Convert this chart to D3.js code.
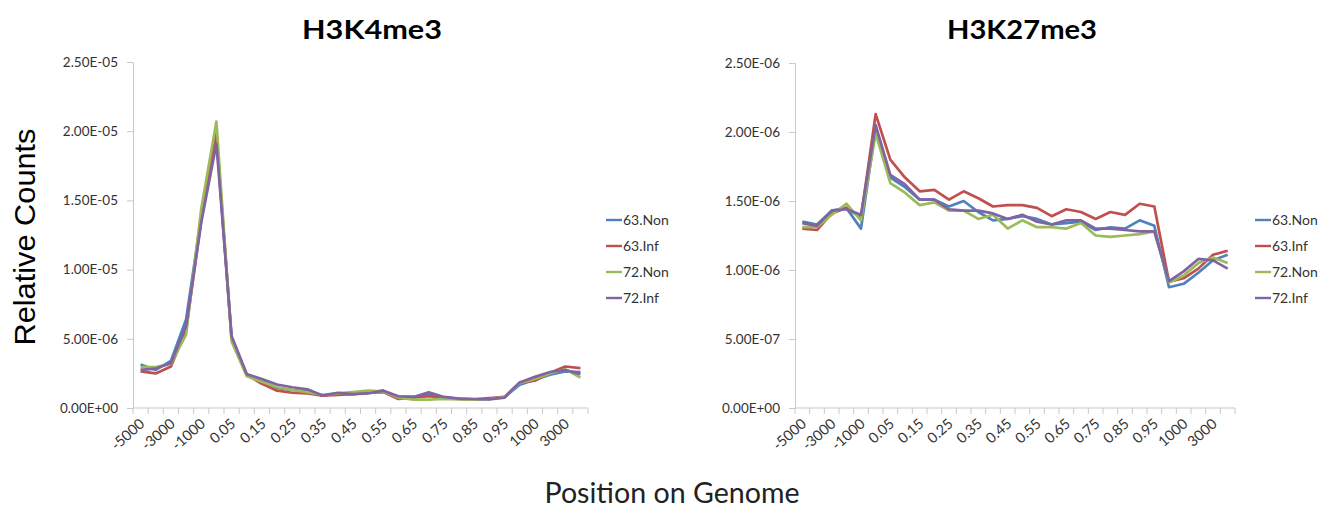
<!DOCTYPE html>
<html><head><meta charset="utf-8">
<script src="https://cdn.jsdelivr.net/npm/d3@7"></script>
<style>body{margin:0;background:#fff}svg{display:block}</style>
</head><body>
<svg id="c" width="1335" height="509"></svg>
<script>
const categories = ["-5000","-4000","-3000","-2000","-1000","0","0.05","0.1","0.15","0.2","0.25","0.3","0.35","0.4","0.45","0.5","0.55","0.6","0.65","0.7","0.75","0.8","0.85","0.9","0.95","1","1000","2000","3000","4000"];
const tickLabels = ["-5000","-3000","-1000","0.05","0.15","0.25","0.35","0.45","0.55","0.65","0.75","0.85","0.95","1000","3000"];
const seriesNames = ["63.Non","63.Inf","72.Non","72.Inf"];
const seriesColors = ["#4F81BD","#C0504D","#9BBB59","#8064A2"];
const yTicksK4 = [0,5e-6,1e-5,1.5e-5,2e-5,2.5e-5];
const yTicksK27 = [0,5e-7,1e-6,1.5e-6,2e-6,2.5e-6];

// H3K4me3
const k4_63Non = [3.15e-6,2.75e-6,3.40e-6,6.40e-6,13.8e-6,19.6e-6,5.10e-6,2.35e-6,1.95e-6,1.45e-6,1.30e-6,1.20e-6,0.90e-6,1.05e-6,1.00e-6,1.10e-6,1.25e-6,0.80e-6,0.80e-6,1.00e-6,0.75e-6,0.68e-6,0.63e-6,0.65e-6,0.80e-6,1.68e-6,2.05e-6,2.40e-6,2.65e-6,2.60e-6];
const k4_63Inf = [2.65e-6,2.50e-6,3.00e-6,5.60e-6,13.6e-6,19.8e-6,5.00e-6,2.40e-6,1.75e-6,1.25e-6,1.10e-6,1.05e-6,0.90e-6,0.95e-6,1.00e-6,1.10e-6,1.15e-6,0.65e-6,0.75e-6,0.85e-6,0.75e-6,0.65e-6,0.63e-6,0.72e-6,0.80e-6,1.85e-6,1.97e-6,2.55e-6,3.00e-6,2.88e-6];
const k4_72Non = [2.95e-6,2.95e-6,3.20e-6,5.30e-6,14.4e-6,20.7e-6,4.80e-6,2.30e-6,1.90e-6,1.50e-6,1.30e-6,1.15e-6,0.95e-6,1.05e-6,1.15e-6,1.25e-6,1.20e-6,0.75e-6,0.60e-6,0.60e-6,0.65e-6,0.62e-6,0.60e-6,0.65e-6,0.78e-6,1.80e-6,2.10e-6,2.50e-6,2.80e-6,2.20e-6];
const k4_72Inf = [2.75e-6,2.85e-6,3.25e-6,5.90e-6,13.4e-6,19.1e-6,5.20e-6,2.45e-6,2.10e-6,1.70e-6,1.50e-6,1.35e-6,0.90e-6,1.10e-6,1.00e-6,1.05e-6,1.25e-6,0.85e-6,0.80e-6,1.13e-6,0.80e-6,0.68e-6,0.65e-6,0.62e-6,0.75e-6,1.85e-6,2.25e-6,2.60e-6,2.75e-6,2.45e-6];

// H3K27me3
const k27_63Non = [1.35e-6,1.33e-6,1.43e-6,1.45e-6,1.30e-6,2.03e-6,1.67e-6,1.60e-6,1.51e-6,1.51e-6,1.46e-6,1.50e-6,1.42e-6,1.36e-6,1.37e-6,1.39e-6,1.37e-6,1.33e-6,1.34e-6,1.35e-6,1.29e-6,1.31e-6,1.30e-6,1.36e-6,1.32e-6,0.875e-6,0.90e-6,0.98e-6,1.07e-6,1.11e-6];
const k27_63Inf = [1.30e-6,1.29e-6,1.41e-6,1.45e-6,1.38e-6,2.13e-6,1.80e-6,1.67e-6,1.57e-6,1.58e-6,1.51e-6,1.57e-6,1.52e-6,1.46e-6,1.47e-6,1.47e-6,1.45e-6,1.39e-6,1.44e-6,1.42e-6,1.37e-6,1.42e-6,1.40e-6,1.48e-6,1.46e-6,0.915e-6,0.94e-6,1.01e-6,1.11e-6,1.14e-6];
const k27_72Non = [1.31e-6,1.31e-6,1.40e-6,1.48e-6,1.36e-6,1.99e-6,1.63e-6,1.56e-6,1.47e-6,1.49e-6,1.43e-6,1.43e-6,1.37e-6,1.40e-6,1.30e-6,1.36e-6,1.31e-6,1.31e-6,1.30e-6,1.34e-6,1.25e-6,1.24e-6,1.25e-6,1.26e-6,1.28e-6,0.91e-6,0.96e-6,1.05e-6,1.09e-6,1.05e-6];
const k27_72Inf = [1.34e-6,1.32e-6,1.43e-6,1.44e-6,1.40e-6,2.05e-6,1.69e-6,1.62e-6,1.51e-6,1.51e-6,1.44e-6,1.43e-6,1.43e-6,1.41e-6,1.37e-6,1.40e-6,1.35e-6,1.33e-6,1.36e-6,1.36e-6,1.30e-6,1.30e-6,1.29e-6,1.28e-6,1.28e-6,0.92e-6,0.99e-6,1.08e-6,1.07e-6,1.01e-6];

const svg = d3.select("#c");
const CAL = "Lato, 'Open Sans', sans-serif";
const AX = "#c9c9c9";

function fmtE(v){
  const s = d3.format(".2e")(v);
  const [m, e] = s.split("e");
  const sign = e[0] === "-" ? "-" : "+";
  const digits = e.replace(/[+-]/,"").padStart(2,"0");
  return m + "E" + sign + digits;
}

function panel(cfg){
  const g = svg.append("g");
  const x = d3.scaleBand().domain(categories).range([cfg.x0, cfg.x1]).paddingInner(0).paddingOuter(0);
  const y = d3.scaleLinear().domain([0, cfg.yTicks[cfg.yTicks.length-1]]).range([cfg.y1, cfg.y0]);

  const ya = g.append("g").attr("transform", `translate(${cfg.x0},0)`)
    .call(d3.axisLeft(y).tickValues(cfg.yTicks).tickFormat(fmtE).tickSize(6).tickPadding(9));
  ya.select(".domain").attr("stroke", AX);
  ya.selectAll(".tick line").attr("stroke", AX);
  ya.selectAll(".tick text").attr("font-family", CAL).attr("font-size", 13.5).attr("fill", "#333");

  g.append("line").attr("x1", cfg.x0).attr("x2", cfg.x1).attr("y1", cfg.y1).attr("y2", cfg.y1).attr("stroke", AX);
  const bounds = categories.map(c => x(c)).concat([x(categories[categories.length-1]) + x.bandwidth()]);
  g.selectAll(".xt").data(bounds).join("line")
    .attr("x1", d => d).attr("x2", d => d).attr("y1", cfg.y1).attr("y2", cfg.y1 + 6).attr("stroke", AX);
  g.selectAll(".xl").data(tickLabels).join("text")
    .attr("transform", d => `translate(${x(d) + x.bandwidth()/2 + 5},${cfg.y1 + 17}) rotate(-42)`)
    .attr("text-anchor", "end").attr("font-family", CAL).attr("font-size", 14.5).attr("fill", "#333")
    .text(d => d);

  const line = d3.line().x((d,i) => x(categories[i]) + x.bandwidth()/2).y(d => y(d));
  cfg.series.forEach((s, k) => {
    g.append("path").attr("d", line(s)).attr("fill", "none").attr("stroke", seriesColors[k])
      .attr("stroke-width", 2.7).attr("stroke-linejoin", "round");
  });

  g.append("text").attr("x", cfg.titleX).attr("y", 39).attr("text-anchor", "middle")
    .attr("font-family", CAL).attr("font-weight", "bold").attr("font-size", 27).attr("fill", "#000")
    .attr("textLength", cfg.titleW).attr("lengthAdjust", "spacingAndGlyphs").text(cfg.title);

  const lg = g.append("g");
  seriesNames.forEach((n, k) => {
    const yy = 220 + k * 26;
    lg.append("line").attr("x1", cfg.legX).attr("x2", cfg.legX + 16).attr("y1", yy).attr("y2", yy)
      .attr("stroke", seriesColors[k]).attr("stroke-width", 2.4);
    lg.append("text").attr("x", cfg.legX + 17).attr("y", yy).attr("dy", "0.35em")
      .attr("font-family", CAL).attr("font-size", 14).attr("fill", "#333").text(n);
  });
}

panel({x0:133, x1:588, y0:62, y1:408, yTicks:yTicksK4, title:"H3K4me3", titleX:372, titleW:140,
  series:[k4_63Non,k4_63Inf,k4_72Non,k4_72Inf], legX:606});
panel({x0:795, x1:1235, y0:63, y1:408, yTicks:yTicksK27, title:"H3K27me3", titleX:1022, titleW:150,
  series:[k27_63Non,k27_63Inf,k27_72Non,k27_72Inf], legX:1255});

svg.append("text").attr("transform", "translate(35,237) rotate(-90)").attr("text-anchor", "middle")
  .attr("font-family", "'Liberation Sans', Arial, sans-serif").attr("font-size", 30).attr("fill", "#000")
  .attr("textLength", 217).attr("lengthAdjust", "spacingAndGlyphs").text("Relative Counts");
svg.append("text").attr("x", 672).attr("y", 503).attr("text-anchor", "middle")
  .attr("font-family", CAL).attr("font-size", 28).attr("fill", "#222")
  .attr("textLength", 255).attr("lengthAdjust", "spacingAndGlyphs").text("Position on Genome");
</script>
</body></html>
